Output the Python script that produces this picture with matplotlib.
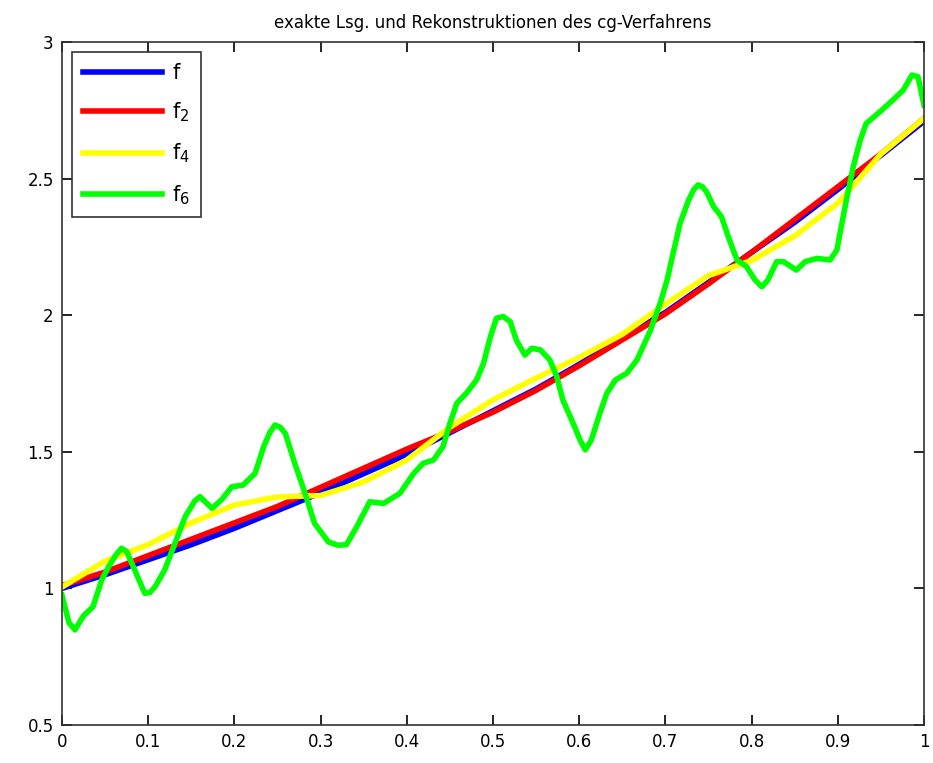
import matplotlib

matplotlib.use("Agg")
import matplotlib.pyplot as plt
import numpy as np

plt.rcParams["font.family"] = ["DejaVu Sans"]
plt.rcParams["mathtext.default"] = "regular"

x_smooth = [0, .05, .1, .15, .2, .25, .3, .35, .4, .45, .5,
            .55, .6, .65, .7, .75, .8, .85, .9, .95, 1]
f_vals = [1.00, 1.05, 1.105, 1.16, 1.22, 1.285, 1.35, 1.42, 1.49, 1.57, 1.65,
          1.73, 1.82, 1.92, 2.01, 2.12, 2.23, 2.34, 2.46, 2.585, 2.71]
f2_vals = [1.01, 1.06, 1.12, 1.18, 1.24, 1.30, 1.37, 1.44, 1.51, 1.575, 1.645,
           1.725, 1.815, 1.91, 2.005, 2.115, 2.23, 2.35, 2.47, 2.59, 2.72]
f4_vals = [1.005, 1.10, 1.16, 1.24, 1.305, 1.335, 1.34, 1.39, 1.47, 1.59, 1.69,
           1.77, 1.845, 1.93, 2.04, 2.145, 2.20, 2.29, 2.41, 2.59, 2.72]

# oszillierende Rekonstruktion f_6
x_f6 = [0.0, 0.008, 0.015, 0.025, 0.036, 0.046, 0.054, 0.062, 0.069, 0.075,
        0.081, 0.096, 0.102, 0.108, 0.119, 0.131, 0.143, 0.154, 0.160, 0.174,
        0.185, 0.197, 0.210, 0.224, 0.234, 0.241, 0.247, 0.253, 0.259, 0.270,
        0.282, 0.293, 0.309, 0.320, 0.330, 0.342, 0.357, 0.373, 0.392, 0.408,
        0.419, 0.431, 0.442, 0.450, 0.458, 0.469, 0.481, 0.489, 0.497, 0.504,
        0.512, 0.520, 0.527, 0.537, 0.545, 0.555, 0.566, 0.574, 0.581, 0.593,
        0.601, 0.607, 0.614, 0.624, 0.632, 0.642, 0.655, 0.667, 0.682, 0.694,
        0.702, 0.709, 0.717, 0.727, 0.733, 0.738, 0.743, 0.748, 0.756, 0.765,
        0.773, 0.783, 0.794, 0.804, 0.812, 0.819, 0.829, 0.837, 0.852, 0.862,
        0.876, 0.891, 0.899, 0.904, 0.910, 0.918, 0.926, 0.933, 0.949, 0.964,
        0.976, 0.986, 0.993, 1.0]
f6_vals = [0.975, 0.875, 0.848, 0.900, 0.933, 1.031, 1.079, 1.120, 1.147, 1.135,
           1.092, 0.982, 0.985, 1.006, 1.067, 1.165, 1.263, 1.320, 1.336, 1.293,
           1.324, 1.372, 1.378, 1.421, 1.519, 1.570, 1.598, 1.590, 1.568, 1.458,
           1.348, 1.238, 1.170, 1.158, 1.160, 1.226, 1.317, 1.311, 1.348, 1.421,
           1.458, 1.470, 1.519, 1.604, 1.678, 1.714, 1.763, 1.824, 1.921, 1.989,
           1.995, 1.976, 1.909, 1.854, 1.879, 1.873, 1.836, 1.775, 1.690, 1.604,
           1.543, 1.507, 1.543, 1.641, 1.714, 1.763, 1.787, 1.836, 1.940, 2.044,
           2.129, 2.227, 2.336, 2.422, 2.460, 2.477, 2.470, 2.450, 2.397, 2.361,
           2.287, 2.202, 2.178, 2.129, 2.104, 2.129, 2.196, 2.196, 2.165, 2.196,
           2.208, 2.202, 2.239, 2.324, 2.422, 2.544, 2.641, 2.702, 2.745, 2.788,
           2.824, 2.879, 2.873, 2.769]

labels = ["f", "f$_2$", "f$_4$", "f$_6$"]
colors = ["#0000ff", "#ff0000", "#ffff00", "#00ff00"]

fig = plt.figure(figsize=(9.33, 7.63), dpi=100)
ax = fig.add_axes([62 / 933, 38 / 763, 862 / 933, 683 / 763])

lw = 4.0
ax.plot(x_smooth, f_vals, color=colors[0], lw=lw, label=labels[0])
ax.plot(x_smooth, f2_vals, color=colors[1], lw=lw, label=labels[1])
ax.plot(x_smooth, f4_vals, color=colors[2], lw=lw, label=labels[2])
ax.plot(x_f6, f6_vals, color=colors[3], lw=lw, label=labels[3], solid_joinstyle="round")

ax.set_xlim(0, 1)
ax.set_ylim(0.5, 3)
ax.set_xticks(np.arange(0, 1.01, 0.1))
ax.set_xticklabels(["0", "0.1", "0.2", "0.3", "0.4", "0.5", "0.6", "0.7", "0.8", "0.9", "1"])
ax.set_yticks([0.5, 1, 1.5, 2, 2.5, 3])
ax.set_yticklabels(["0.5", "1", "1.5", "2", "2.5", "3"])
ax.tick_params(direction="in", top=True, right=True, length=7, width=1.2,
               labelsize=12, pad=6)
for s in ax.spines.values():
    s.set_linewidth(1.2)
    s.set_color("#333333")

ax.set_title("exakte Lsg. und Rekonstruktionen des cg-Verfahrens", fontsize=12, pad=10)

leg = ax.legend(loc="upper left", fontsize=15, handlelength=3.8, labelspacing=0.85,
                handletextpad=0.5, borderpad=0.5, fancybox=False, framealpha=1,
                borderaxespad=0.5)
leg.get_frame().set_edgecolor("#333333")
leg.get_frame().set_linewidth(1.2)

fig.savefig("out.png")
